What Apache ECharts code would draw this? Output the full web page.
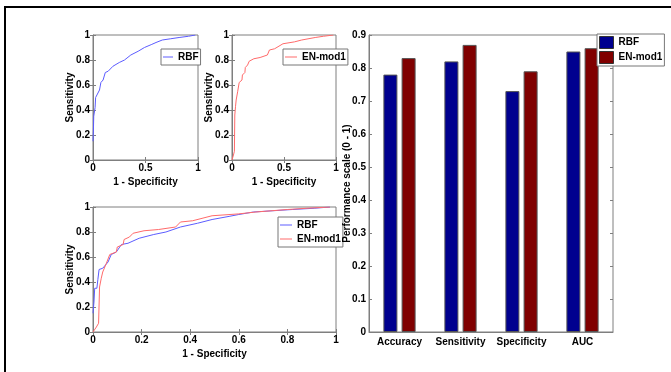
<!DOCTYPE html>
<html lang="en">
  <head>
    <meta charset="UTF-8" />
    <title>ROC curves and performance</title>
    <style>
      * {
        padding: 0;
        margin: 0;
      }
    </style>
    <script src="https://cdn.jsdelivr.net/npm/echarts@6/dist/echarts.min.js"></script>
  </head>
  <body>
    <div id="main" style="width: 671px; height: 372px;"></div>
    <script type="text/javascript">
      // ROC points (1 - specificity, sensitivity)
      var rbfFpr = [0, 0.004, 0.007, 0.016, 0.02, 0.025, 0.04, 0.062, 0.075, 0.096, 0.117, 0.144, 0.19, 0.25, 0.30, 0.36, 0.43, 0.49, 0.56, 0.60, 0.66, 0.74, 0.82, 0.91, 0.975];
      var rbfTpr = [0.15, 0.24, 0.35, 0.35, 0.42, 0.50, 0.51, 0.56, 0.62, 0.64, 0.70, 0.71, 0.75, 0.78, 0.80, 0.84, 0.87, 0.90, 0.925, 0.94, 0.96, 0.97, 0.98, 0.99, 1.0];
      var enFpr = [0, 0.014, 0.023, 0.027, 0.034, 0.04, 0.055, 0.069, 0.096, 0.10, 0.124, 0.128, 0.15, 0.165, 0.21, 0.27, 0.34, 0.36, 0.41, 0.49, 0.60, 0.67, 0.80, 0.88, 0.975];
      var enTpr = [0, 0.04, 0.07, 0.36, 0.43, 0.48, 0.55, 0.62, 0.64, 0.68, 0.70, 0.74, 0.76, 0.79, 0.81, 0.82, 0.84, 0.88, 0.89, 0.93, 0.945, 0.96, 0.98, 0.99, 1.0];

      var metrics = ['Accuracy', 'Sensitivity', 'Specificity', 'AUC'];
      var rbfScores = [0.78, 0.82, 0.73, 0.85];
      var enScores = [0.83, 0.87, 0.79, 0.86];

      var font = "'Liberation Sans', Arial, sans-serif";
      var boxColor = '#7f7f7f';
      var blueLine = '#5c5cff';
      var redLine = '#ff6a6a';
      var blueBar = '#00008f';
      var redBar = '#800000';

      function pairs(xs, ys) {
        return xs.map(function (x, i) { return [x, ys[i]]; });
      }

      var lbl = { color: '#000', fontFamily: font, fontWeight: 'bold', fontSize: 10 };
      var nameStyle = { color: '#000', fontFamily: font, fontWeight: 'bold', fontSize: 10 };

      function valueX(grid, interval) {
        return {
          type: 'value', gridIndex: grid, min: 0, max: 1, interval: interval,
          position: 'bottom',
          splitLine: { show: false },
          axisLine: { lineStyle: { color: boxColor } },
          axisTick: { inside: true, length: 3, lineStyle: { color: boxColor } },
          axisLabel: Object.assign({ margin: 3 }, lbl),
          name: '1 - Specificity', nameLocation: 'middle', nameGap: 17, nameMoveOverlap: false,
          nameTextStyle: nameStyle
        };
      }
      function valueY(grid) {
        return {
          type: 'value', gridIndex: grid, min: 0, max: 1, interval: 0.2,
          splitLine: { show: false },
          axisLine: { show: true, lineStyle: { color: boxColor } },
          axisTick: { show: true, inside: true, length: 3, lineStyle: { color: boxColor } },
          axisLabel: Object.assign({ margin: 3 }, lbl),
          name: 'Sensitivity', nameLocation: 'middle', nameGap: 18, nameMoveOverlap: false,
          nameTextStyle: nameStyle
        };
      }
      function topX(grid, interval) {
        return {
          type: 'value', gridIndex: grid, min: 0, max: 1, interval: interval, position: 'top',
          splitLine: { show: false }, axisLine: { show: false }, axisLabel: { show: false },
          axisTick: { inside: true, length: 3, lineStyle: { color: boxColor } }
        };
      }
      function rightY(grid, max, interval) {
        return {
          type: 'value', gridIndex: grid, min: 0, max: max, interval: interval, position: 'right',
          splitLine: { show: false }, axisLine: { show: false }, axisLabel: { show: false },
          axisTick: { show: true, inside: true, length: 3, lineStyle: { color: boxColor } }
        };
      }
      function lineKey(name, color) {
        return { name: name, icon: 'rect', itemStyle: { color: color, borderWidth: 0 } };
      }

      var gridBox = { show: true, borderColor: boxColor, borderWidth: 1, backgroundColor: '#fff' };
      var legendBox = {
        orient: 'vertical', borderColor: '#777', borderWidth: 1, backgroundColor: '#fff',
        selectedMode: false, textStyle: lbl
      };

      var myChart = echarts.init(document.getElementById('main'));

      var option = {
        animation: false,
        backgroundColor: '#fff',
        graphic: [{
          type: 'rect', shape: { x: 5, y: 7, width: 720, height: 420 },
          style: { fill: null, stroke: '#000', lineWidth: 2 }, silent: true
        }],
        grid: [
          Object.assign({ left: 93, top: 35, width: 105, height: 125 }, gridBox),
          Object.assign({ left: 232, top: 35, width: 104, height: 125 }, gridBox),
          Object.assign({ left: 93, top: 207, width: 243, height: 125 }, gridBox),
          Object.assign({ left: 369, top: 35, width: 244, height: 297 }, gridBox)
        ],
        legend: [
          Object.assign({
            data: [lineKey('RBF', blueLine)], left: 161, top: 49,
            padding: [3, 2, 3, 2], itemWidth: 10, itemHeight: 1
          }, legendBox),
          Object.assign({
            data: [lineKey('EN-mod1', redLine)], left: 283, top: 49,
            padding: [3, 2, 3, 2], itemWidth: 12, itemHeight: 1
          }, legendBox),
          Object.assign({
            data: [lineKey('RBF', blueLine), lineKey('EN-mod1', redLine)], left: 278, top: 217,
            padding: [3, 2, 3, 2], itemWidth: 12, itemHeight: 1, itemGap: 4
          }, legendBox),
          Object.assign({
            data: [
              { name: 'RBF', icon: 'rect', itemStyle: { color: blueBar, borderColor: '#333', borderWidth: 1 } },
              { name: 'EN-mod1', icon: 'rect', itemStyle: { color: redBar, borderColor: '#333', borderWidth: 1 } }
            ],
            left: 597, top: 34, borderColor: '#999',
            padding: [2, 2, 2, 2], itemWidth: 14, itemHeight: 12, itemGap: 2
          }, legendBox)
        ],
        xAxis: [
          valueX(0, 0.5),
          valueX(1, 0.5),
          valueX(2, 0.2),
          {
            type: 'category', gridIndex: 3, data: metrics,
            axisLine: { lineStyle: { color: boxColor } },
            axisTick: { inside: true, alignWithLabel: true, length: 3, lineStyle: { color: boxColor } },
            axisLabel: Object.assign({ margin: 5, interval: 0 }, lbl)
          },
          topX(0, 0.5),
          topX(1, 0.5),
          topX(2, 0.2),
          {
            type: 'category', gridIndex: 3, data: metrics, position: 'top',
            axisLine: { show: false }, axisLabel: { show: false },
            axisTick: { inside: true, alignWithLabel: true, length: 3, lineStyle: { color: boxColor } }
          }
        ],
        yAxis: [
          valueY(0),
          valueY(1),
          valueY(2),
          {
            type: 'value', gridIndex: 3, min: 0, max: 0.9, interval: 0.1, z: 10,
            splitLine: { show: false },
            axisLine: { show: true, lineStyle: { color: boxColor } },
            axisTick: { show: true, inside: true, length: 3, lineStyle: { color: boxColor } },
            axisLabel: Object.assign({ margin: 3 }, lbl),
            name: 'Performance scale (0 - 1)', nameLocation: 'middle', nameGap: 17, nameMoveOverlap: false,
            nameTextStyle: nameStyle
          },
          rightY(0, 1, 0.2),
          rightY(1, 1, 0.2),
          rightY(2, 1, 0.2),
          rightY(3, 0.9, 0.1)
        ],
        series: [
          {
            name: 'RBF', type: 'line', xAxisIndex: 0, yAxisIndex: 0, symbol: 'none',
            lineStyle: { color: blueLine, width: 1 }, itemStyle: { color: blueLine },
            data: pairs(rbfFpr, rbfTpr)
          },
          {
            name: 'EN-mod1', type: 'line', xAxisIndex: 1, yAxisIndex: 1, symbol: 'none',
            lineStyle: { color: redLine, width: 1 }, itemStyle: { color: redLine },
            data: pairs(enFpr, enTpr)
          },
          {
            name: 'RBF', type: 'line', xAxisIndex: 2, yAxisIndex: 2, symbol: 'none',
            lineStyle: { color: blueLine, width: 1 }, itemStyle: { color: blueLine },
            data: pairs(rbfFpr, rbfTpr)
          },
          {
            name: 'EN-mod1', type: 'line', xAxisIndex: 2, yAxisIndex: 2, symbol: 'none',
            lineStyle: { color: redLine, width: 1 }, itemStyle: { color: redLine },
            data: pairs(enFpr, enTpr)
          },
          {
            name: 'RBF', type: 'bar', xAxisIndex: 3, yAxisIndex: 3,
            barWidth: 14, barGap: '30%',
            itemStyle: { color: blueBar, borderColor: '#555', borderWidth: 1 },
            data: rbfScores
          },
          {
            name: 'EN-mod1', type: 'bar', xAxisIndex: 3, yAxisIndex: 3,
            barWidth: 14, barGap: '30%',
            itemStyle: { color: redBar, borderColor: '#555', borderWidth: 1 },
            data: enScores
          }
        ]
      };

      myChart.setOption(option, true);
    </script>
  </body>
</html>
